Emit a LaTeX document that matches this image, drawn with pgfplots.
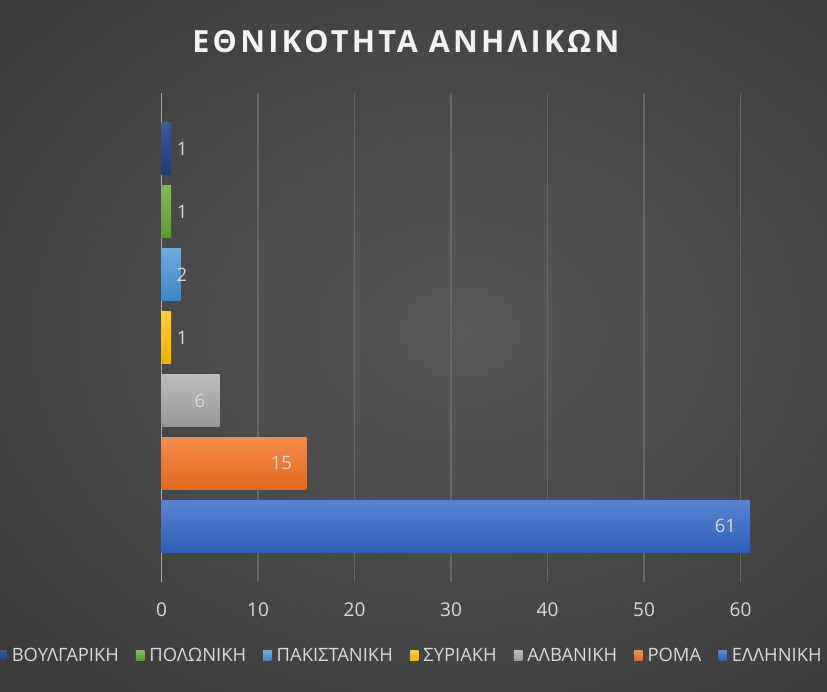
\documentclass[border=0pt]{standalone}
\usepackage{pgfplots}
\pgfplotsset{compat=1.18}
\usepackage{fontspec}
\setmainfont{Open Sans}
\newfontfamily\titlefont[LetterSpace=10.5]{Open Sans}
\definecolor{bgin}{HTML}{575757}
\definecolor{bgout}{HTML}{262626}
\definecolor{gridc}{HTML}{666666}
\definecolor{axc}{HTML}{A6A6A6}
\definecolor{labc}{HTML}{D9D9D9}
\definecolor{titlec}{HTML}{F2F2F2}
\definecolor{c1t}{HTML}{5A84D2}\definecolor{c1b}{HTML}{2E5EB6}
\definecolor{c2t}{HTML}{F48C4C}\definecolor{c2b}{HTML}{E1691A}
\definecolor{c3t}{HTML}{BDBDBD}\definecolor{c3b}{HTML}{979797}
\definecolor{c4t}{HTML}{FFCB3A}\definecolor{c4b}{HTML}{EDB300}
\definecolor{c5t}{HTML}{71A9DE}\definecolor{c5b}{HTML}{3D86CB}
\definecolor{c6t}{HTML}{82BC5B}\definecolor{c6b}{HTML}{5A9B31}
\definecolor{c7t}{HTML}{3D5C98}\definecolor{c7b}{HTML}{1E3C74}
\pgfdeclareradialshading{bgshade}{\pgfpoint{0bp}{0bp}}{color(0bp)=(bgin); color(50bp)=(bgout)}
\begin{document}
\begin{tikzpicture}
\useasboundingbox (0,0) rectangle (827pt,691pt);
\clip (0,0) rectangle (827pt,691pt);
\shade[shading=bgshade] (-80pt,-60pt) rectangle (1000pt,780pt);
\node[font=\titlefont\bfseries\fontsize{30.5}{36}\selectfont, text=titlec] at (406pt,649pt) {ΕΘΝΙΚΟΤΗΤΑ ΑΝΗΛΙΚΩΝ};
\begin{axis}[
  at={(161.5pt,109pt)}, anchor=south west,
  scale only axis, width=675.5pt, height=489pt,
  xmin=0, xmax=70, ymin=-0.885, ymax=6.885,
  xtick={0,10,...,60}, ytick=\empty,
  xmajorgrids, major grid style={draw=gridc, line width=1.2pt},
  axis lines=left, axis line style={-},
  x axis line style={draw=none},
  y axis line style={draw=axc, line width=1.4pt},
  major tick length=0pt,
  /pgf/number format/assume math mode=true,
  xticklabel style={text=labc, font=\fontsize{19}{22}\selectfont, anchor=center, yshift=-27.7pt},
  clip=false,
  point meta=x,
  nodes near coords,
  every node near coord/.append style={text=labc, font=\fontsize{18.5}{22}\selectfont, inner sep=0pt},
  legend columns=-1,
  legend style={at={(0.3715,-0.151)}, anchor=center, draw=none, fill=none,
    text=labc, font=\fontsize{18.4}{22}\selectfont,
    /tikz/every even column/.append style={column sep=12pt},
    nodes={inner xsep=5pt}},
  legend image code/.code={\fill[#1] (0pt,-5pt) rectangle (8.5pt,5pt);},
]
\addplot[xbar, bar width=0.827, bar shift=0pt, draw=none, top color=c7t, bottom color=c7b,
  every node near coord/.append style={anchor=center, xshift=11pt}] coordinates {(1,6)};
\addlegendentry{ΒΟΥΛΓΑΡΙΚΗ}
\addplot[xbar, bar width=0.827, bar shift=0pt, draw=none, top color=c6t, bottom color=c6b,
  every node near coord/.append style={anchor=center, xshift=11pt}] coordinates {(1,5)};
\addlegendentry{ΠΟΛΩΝΙΚΗ}
\addplot[xbar, bar width=0.827, bar shift=0pt, draw=none, top color=c5t, bottom color=c5b,
  every node near coord/.append style={anchor=center, xshift=1pt}] coordinates {(2,4)};
\addlegendentry{ΠΑΚΙΣΤΑΝΙΚΗ}
\addplot[xbar, bar width=0.827, bar shift=0pt, draw=none, top color=c4t, bottom color=c4b,
  every node near coord/.append style={anchor=center, xshift=11pt}] coordinates {(1,3)};
\addlegendentry{ΣΥΡΙΑΚΗ}
\addplot[xbar, bar width=0.827, bar shift=0pt, draw=none, top color=c3t, bottom color=c3b,
  every node near coord/.append style={anchor=east, xshift=-14pt}] coordinates {(6,2)};
\addlegendentry{ΑΛΒΑΝΙΚΗ}
\addplot[xbar, bar width=0.827, bar shift=0pt, draw=none, top color=c2t, bottom color=c2b,
  every node near coord/.append style={anchor=east, xshift=-14pt}] coordinates {(15,1)};
\addlegendentry{ΡΟΜΑ}
\addplot[xbar, bar width=0.827, bar shift=0pt, draw=none, top color=c1t, bottom color=c1b,
  every node near coord/.append style={anchor=east, xshift=-14pt}] coordinates {(61,0)};
\addlegendentry{ΕΛΛΗΝΙΚΗ}
\end{axis}
\end{tikzpicture}
\end{document}
